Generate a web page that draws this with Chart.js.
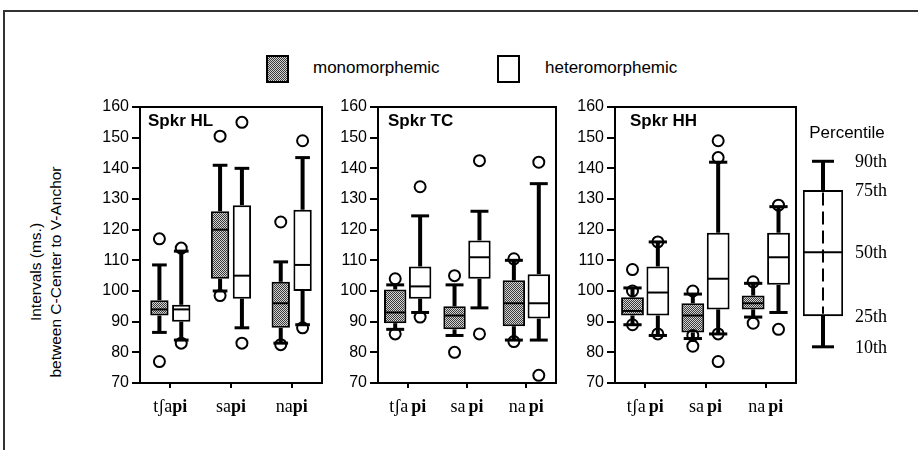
<!DOCTYPE html>
<html><head><meta charset="utf-8">
<script src="https://cdn.jsdelivr.net/npm/chart.js@4/dist/chart.umd.min.js"></script>
<style>
html,body{margin:0;padding:0;background:#fff;}
#wrap{position:relative;width:918px;height:450px;overflow:hidden;font-family:"Liberation Sans",Arial,sans-serif;color:#000;}
#frame{position:absolute;left:3px;top:10px;width:940px;height:470px;border-top:2px solid #333;border-left:2px solid #333;}
canvas{position:absolute;top:0;}
.lbox{position:absolute;top:55px;width:19px;height:24px;border:2px solid #000;}
.mono{background:repeating-conic-gradient(#3a3a3a 0 25%, #d4d4d4 0 50%) 0 0/2px 2px;}
.het{background:#fff;}
.ltxt{position:absolute;top:57px;font-size:17px;line-height:22px;white-space:nowrap;}
#ytitle{position:absolute;left:-84px;top:252px;width:260px;height:40px;transform:rotate(-90deg);transform-origin:50% 50%;text-align:center;font-size:15.5px;line-height:20px;white-space:nowrap;}
</style></head>
<body>
<div id="wrap">
<div id="frame"></div>
<div class="lbox mono" style="left:266px"></div>
<div class="ltxt" style="left:313px">monomorphemic</div>
<div class="lbox het" style="left:497px"></div>
<div class="ltxt" style="left:545px">heteromorphemic</div>
<div id="ytitle">Intervals (ms.)<br>between C-Center to V-Anchor</div>
<canvas id="p1" width="250" height="450" style="left:80px"></canvas>
<canvas id="p2" width="246" height="450" style="left:318px"></canvas>
<canvas id="p3" width="249" height="450" style="left:555px"></canvas>
<canvas id="key" width="122" height="450" style="left:796px"></canvas>
</div>
<script>
// ---- data ----
const categories = ['tʃapi','sapi','napi'];
const boldPart = 'pi';
const speakers = ['Spkr HL','Spkr TC','Spkr HH'];
const seriesNames = ['monomorphemic','heteromorphemic'];
const yMin = 70, yMax = 160, yStep = 10;
// each entry: [p10, q1, median, q3, p90]
const hlMono   = [[86.5,92,94,97,108.5],[100,104,120,126,141],[83,88,96,103,109.5]];
const hlHetero = [[84,90,94,95.5,113],[88,97.5,105,128,140],[89,100,108.5,126.5,143.5]];
const hlMonoOut   = [[117,77],[150.5,98.5],[122.5,82.5]];
const hlHeteroOut = [[114,83],[155,83],[149,88]];
const tcMono   = [[87.5,89.5,93,100.5,102],[85.5,87.5,92,95,102],[84,88.5,96,103.5,110]];
const tcHetero = [[93,97.5,101.5,108,124.5],[94.5,104,111,116.5,126],[84,91,96,105.5,135]];
const tcMonoOut   = [[104,86],[105,80],[110.5,83.5]];
const tcHeteroOut = [[134,91.5],[142.5,86],[142,72.5]];
const hhMono   = [[89,92,93.5,98,101],[84.5,86.5,92,96,99],[91.5,94,96,98.5,102.5]];
const hhHetero = [[85.5,92,99.5,108,116],[86,94,104,119,142],[93,102,111,119,127.5]];
const hhMonoOut   = [[107,100,89],[100,85.5,82],[103,89.5]];
const hhHeteroOut = [[116,86],[149,143.5,86,77],[128,87.5]];
const keyPercentiles = [81.8, 91.9, 112.6, 132.8, 142.3];
const keyLabels = ['10th','25th','50th','75th','90th'];
const keyTitle = 'Percentile';

// ---- helpers ----
function makePattern(ctx){
  const c=document.createElement('canvas'); c.width=2; c.height=2;
  const g=c.getContext('2d');
  g.fillStyle='#d4d4d4'; g.fillRect(0,0,2,2);
  g.fillStyle='#3a3a3a'; g.fillRect(0,0,1,1); g.fillRect(1,1,1,1);
  return ctx.createPattern(c,'repeat');
}
function seg(ctx,x1,y1,x2,y2){ctx.beginPath();ctx.moveTo(x1,y1);ctx.lineTo(x2,y2);ctx.stroke();}

const boxPlugin = {
  id:'boxes',
  afterDatasetsDraw(chart){
    const ctx=chart.ctx, ys=chart.scales.y;
    const Y=v=>ys.getPixelForValue(v);
    chart.data.datasets.forEach((ds,d)=>{
      const meta=chart.getDatasetMeta(d);
      meta.data.forEach((bar,i)=>{
        const [p10,q1,med,q3,p90]=ds.stats[i];
        const x=bar.x, w=bar.width;
        const cw=ds.capWidth||w*0.8;
        ctx.save();
        ctx.strokeStyle='#000'; ctx.lineCap='butt';
        ctx.lineWidth=4;
        seg(ctx,x,Y(q3),x,Y(p90));
        seg(ctx,x,Y(q1),x,Y(p10));
        ctx.lineWidth=3;
        seg(ctx,x-cw/2,Y(p90),x+cw/2,Y(p90));
        seg(ctx,x-cw/2,Y(p10),x+cw/2,Y(p10));
        if(ds.dashedCenter){
          ctx.lineWidth=2; ctx.setLineDash([13,6]);
          seg(ctx,x,Y(q3)+2,x,Y(q1)-2);
          ctx.setLineDash([]);
        }
        ctx.lineWidth=2;
        seg(ctx,x-w/2+1,Y(med),x+w/2-1,Y(med));
        (ds.outliers?ds.outliers[i]:[]).forEach(v=>{
          ctx.beginPath(); ctx.arc(x,Y(v),5.5,0,Math.PI*2); ctx.stroke();
        });
        ctx.restore();
      });
    });
  }
};

const framePlugin = {
  id:'frame',
  afterDraw(chart){
    const o=chart.options.plugins.frame; if(!o||!o.show) return;
    const a=chart.chartArea, ctx=chart.ctx;
    ctx.save(); ctx.strokeStyle='#000'; ctx.lineWidth=2;
    ctx.beginPath(); ctx.moveTo(a.left,a.top); ctx.lineTo(a.right,a.top); ctx.lineTo(a.right,a.bottom); ctx.stroke();
    // speaker label
    ctx.font='bold 17px "Liberation Sans", Arial, sans-serif';
    ctx.fillStyle='#000'; ctx.textBaseline='middle'; ctx.textAlign='left';
    ctx.fillText(o.title, a.left+o.dx, a.top+14);
    // category labels with bold suffix
    const xs=chart.scales.x;
    chart.data.labels.forEach((lab,i)=>{
      const x=xs.getPixelForTick(i);
      const plain=lab.endsWith(boldPart)?lab.slice(0,-boldPart.length):lab;
      const bold=lab.endsWith(boldPart)?boldPart:'';
      ctx.font='18px "Liberation Serif", "Times New Roman", serif';
      const w1=ctx.measureText(plain).width;
      ctx.font='bold 18px "Liberation Serif", "Times New Roman", serif';
      const w2=ctx.measureText(bold).width;
      const gap=o.gap||0;
      const sx=x-(w1+w2+gap)/2;
      ctx.textBaseline='alphabetic';
      ctx.font='18px "Liberation Serif", "Times New Roman", serif';
      ctx.fillText(plain,sx,a.bottom+29);
      ctx.font='bold 18px "Liberation Serif", "Times New Roman", serif';
      ctx.fillText(bold,sx+w1+gap,a.bottom+29);
    });
    ctx.restore();
  }
};

const keyPlugin = {
  id:'keytext',
  afterDraw(chart){
    const o=chart.options.plugins.keytext; if(!o||!o.show) return;
    const a=chart.chartArea, ctx=chart.ctx, ys=chart.scales.y;
    ctx.save(); ctx.fillStyle='#000';
    ctx.font='17px "Liberation Sans", Arial, sans-serif';
    ctx.textAlign='center'; ctx.textBaseline='middle';
    ctx.fillText(keyTitle, a.right+4, a.top+26);
    ctx.font='18px "Liberation Serif", "Times New Roman", serif';
    ctx.textAlign='left';
    keyPercentiles.forEach((v,i)=>{
      ctx.fillText(keyLabels[i], a.right+12, ys.getPixelForValue(v)+1);
    });
    ctx.restore();
  }
};

const panels = [
  {id:'p1', title:speakers[0], mono:hlMono, het:hlHetero, monoOut:hlMonoOut, hetOut:hlHeteroOut, cat:0.72, bar:0.84, dx:8, gap:0},
  {id:'p2', title:speakers[1], mono:tcMono, het:tcHetero, monoOut:tcMonoOut, hetOut:tcHeteroOut, cat:0.84, bar:0.9, dx:10, gap:3},
  {id:'p3', title:speakers[2], mono:hhMono, het:hhHetero, monoOut:hhMonoOut, hetOut:hhHeteroOut, cat:0.84, bar:0.9, dx:15, gap:3}
];

panels.forEach(p=>{
  const cv=document.getElementById(p.id);
  const ctx=cv.getContext('2d');
  const pat=makePattern(ctx);
  new Chart(ctx,{
    type:'bar',
    data:{
      labels:categories,
      datasets:[
        {label:seriesNames[0], data:p.mono.map(s=>[s[1],s[3]]), stats:p.mono, outliers:p.monoOut,
         backgroundColor:pat, borderColor:'#000', borderWidth:2, borderSkipped:false,
         categoryPercentage:p.cat, barPercentage:p.bar},
        {label:seriesNames[1], data:p.het.map(s=>[s[1],s[3]]), stats:p.het, outliers:p.hetOut,
         backgroundColor:'#fff', borderColor:'#000', borderWidth:2, borderSkipped:false,
         categoryPercentage:p.cat, barPercentage:p.bar}
      ]
    },
    options:{
      responsive:false, animation:false, events:[],
      layout:{padding:{top:107,bottom:37,left:0,right:8}},
      plugins:{legend:{display:false},tooltip:{enabled:false},frame:{show:true,title:p.title,dx:p.dx,gap:p.gap}},
      scales:{
        x:{type:'category', offset:true,
           grid:{display:true, offset:false, drawOnChartArea:false, drawTicks:true, tickLength:5, lineWidth:2, color:'#000'},
           border:{display:true,color:'#000',width:2},
           ticks:{display:false},
           afterFit(s){s.height=30;}},
        y:{min:yMin,max:yMax,
           ticks:{stepSize:yStep,color:'#000',font:{family:'"Liberation Sans", Arial, sans-serif',size:16},padding:3},
           grid:{drawOnChartArea:false, drawTicks:true, tickLength:8, lineWidth:2, color:'#000'},
           border:{display:true,color:'#000',width:2},
           afterFit(s){s.width=60;}}
      }
    },
    plugins:[boxPlugin,framePlugin]
  });
});

new Chart(document.getElementById('key').getContext('2d'),{
  type:'bar',
  data:{labels:[keyTitle],
    datasets:[{data:[[keyPercentiles[1],keyPercentiles[3]]], stats:[keyPercentiles], dashedCenter:true, capWidth:22,
      backgroundColor:'#fff', borderColor:'#000', borderWidth:2, borderSkipped:false,
      categoryPercentage:1, barPercentage:1}]},
  options:{
    responsive:false, animation:false, events:[],
    layout:{padding:{top:107,bottom:67,left:7,right:75}},
    plugins:{legend:{display:false},tooltip:{enabled:false},keytext:{show:true}},
    scales:{x:{display:false},y:{display:false,min:yMin,max:yMax}}
  },
  plugins:[boxPlugin,keyPlugin]
});
</script>
</body></html>
